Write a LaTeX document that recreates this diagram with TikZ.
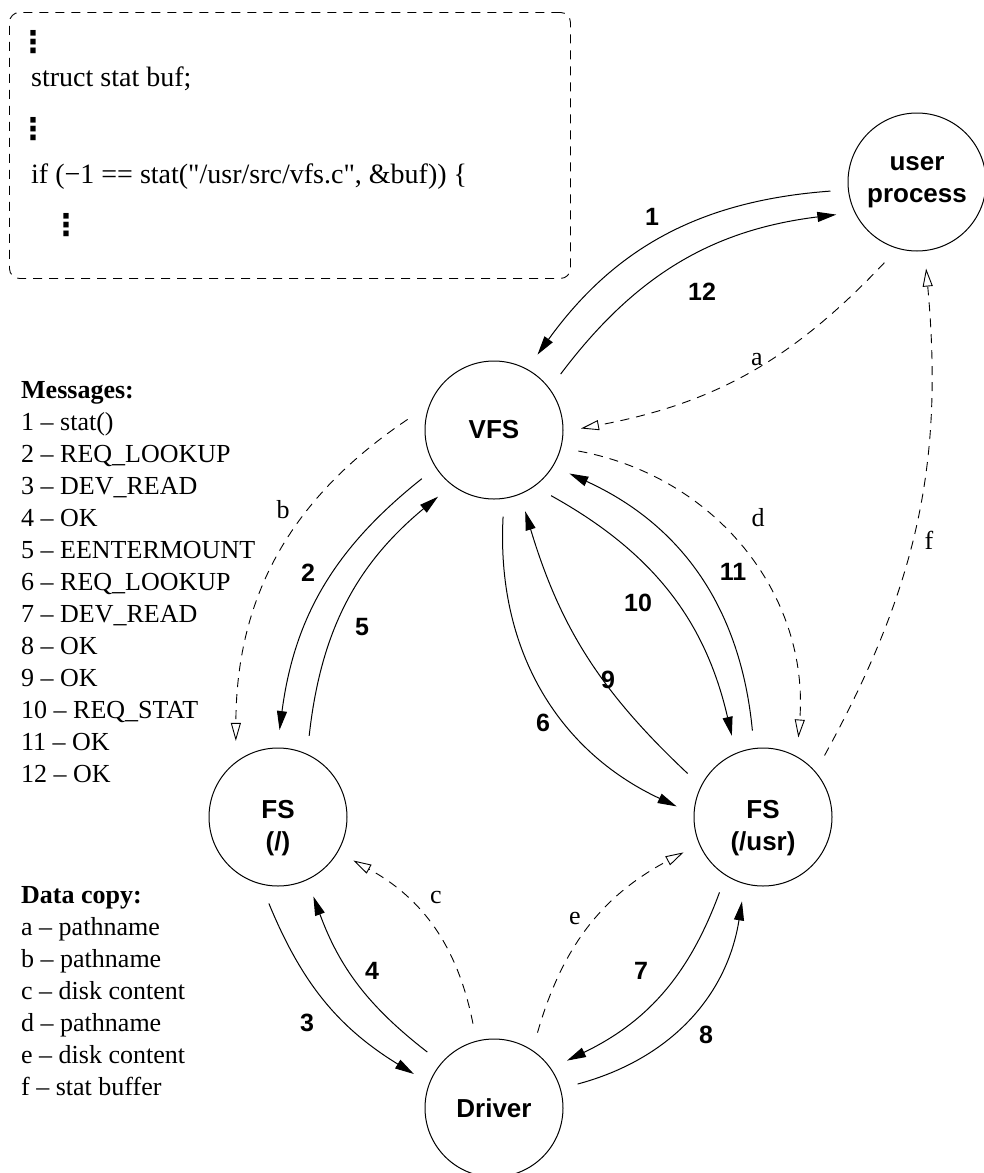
\documentclass[tikz,border=0pt]{standalone}
\usepackage{fontspec}
\setmainfont{Liberation Serif}
\setsansfont{Liberation Sans}
\newfontfamily\codefam{Liberation Serif}
\newfontfamily\symfam{DejaVu Sans}
\usetikzlibrary{arrows.meta}

\newcommand{\procfont}{\sffamily\bfseries\fontsize{26}{32}\selectfont}
\newcommand{\numfont}{\sffamily\bfseries\fontsize{25}{30}\selectfont}
\newcommand{\codefont}{\codefam\fontsize{28}{34}\selectfont}
\newcommand{\dotsfont}{\symfam\bfseries\fontsize{30}{34}\selectfont}
\newcommand{\listfont}{\fontsize{26}{32}\selectfont}

\tikzset{
  proc/.style={circle, draw, line width=1pt, minimum size=138pt, inner sep=0pt, outer sep=18pt, font=\procfont, align=center},
  msg/.style={line width=1pt, -{Triangle[length=19pt,width=10pt]}},
  datacopy/.style={line width=0.9pt, dash pattern=on 9pt off 7pt, -{Triangle[open,length=18pt,width=10pt]}},
  msgnum/.style={font=\numfont, inner sep=0pt},
  copylbl/.style={font=\listfont, inner sep=0pt},
  txt/.style={anchor=base west, inner sep=0pt},
  vdot/.style={anchor=base, inner sep=0pt, font=\dotsfont},
}

\begin{document}
\begin{tikzpicture}[x=1pt, y=-1pt]
  \useasboundingbox (0,0) rectangle (984,1173);

  % code fragment
  \node[draw, line width=0.9pt, dash pattern=on 9pt off 7pt, rounded corners=10pt,
        minimum width=561pt, minimum height=266pt, anchor=north west] (code) at (9,12) {};
  \node[vdot] (dots1) at (33,52) {⋮};
  \node[txt, font=\codefont] (decl) at (31,86) {struct stat buf;};
  \node[vdot] (dots2) at (33,139) {⋮};
  \node[txt, font=\codefont] (call) at (31,183) {if (−1 == stat("/usr/src/vfs.c", \&buf)) \{};
  \node[vdot] (dots3) at (66,235) {⋮};

  % legend
  \node[txt, font=\listfont\bfseries] (msghead) at (21,398) {Messages:};
  \foreach \m [count=\i] in {stat(), REQ\_LOOKUP, DEV\_READ, OK, EENTERMOUNT, REQ\_LOOKUP,
                             DEV\_READ, OK, OK, REQ\_STAT, OK, OK}
    \node[txt, font=\listfont] (msg\i) at (21,398+32*\i) {\i{} – \m};

  \node[txt, font=\listfont\bfseries] (copyhead) at (21,903) {Data copy:};
  \foreach \l/\d [count=\i] in {a/pathname, b/pathname, c/disk content, d/pathname,
                                e/disk content, f/stat buffer}
    \node[txt, font=\listfont] (copy\i) at (21,903+32*\i) {\l{} – \d};

  % processes
  \node[proc] (up) at (917,182) {user\\process};
  \node[proc] (vfs) at (494,430) {VFS};
  \node[proc] (fsroot) at (278,817) {\rule{0pt}{40pt}FS\\(/)};
  \node[proc] (fsusr) at (763,817) {\rule{0pt}{40pt}FS\\(/usr)};
  \node[proc] (drv) at (494,1108) {Driver};

  % messages
  \draw[msg] (up.186) to[bend right=25] (vfs.60);
  \draw[msg] (vfs.40) to[bend left=23] (up.202);
  \draw[msg] (vfs.214) to[bend right=22] (fsroot.89);
  \draw[msg] (fsroot.69) to[bend left=22] (vfs.230);
  \draw[msg] (fsroot.264) to[bend right=18] (drv.157);
  \draw[msg] (drv.140) to[bend left=16] (fsroot.294);
  \draw[msg] (vfs.276) to[bend right=34] (fsusr.173);
  \draw[msg] (fsusr.240) to[bend left=22] (drv.33);
  \draw[msg] (drv.16) to[bend right=33] (fsusr.256);
  \draw[msg] (fsusr.150) to[bend left=15] (vfs.291);
  \draw[msg] (vfs.311) to[bend left=24] (fsusr.111);
  \draw[msg] (fsusr.97) to[bend right=30] (vfs.330);

  \node[msgnum] (n1) at (652,217) {1};
  \node[msgnum] (n2) at (308,573) {2};
  \node[msgnum] (n3) at (307,1023) {3};
  \node[msgnum] (n4) at (372,971) {4};
  \node[msgnum] (n5) at (362,627) {5};
  \node[msgnum] (n6) at (543,723) {6};
  \node[msgnum] (n7) at (641,971) {7};
  \node[msgnum] (n8) at (706,1035) {8};
  \node[msgnum] (n9) at (608,680) {9};
  \node[msgnum] (n10) at (638,603) {10};
  \node[msgnum] (n11) at (733,572) {11};
  \node[msgnum] (n12) at (702,292) {12};

  % data copies
  \draw[datacopy] (up.248) to[bend left=18] (vfs.1);
  \draw[datacopy] (vfs.173) to[bend right=28] (fsroot.119);
  \draw[datacopy] (drv.104) to[bend right=25] (fsroot.330);
  \draw[datacopy] (vfs.346) to[bend left=42] (fsusr.66);
  \draw[datacopy] (drv.60) to[bend left=23] (fsusr.204);
  \draw[datacopy] (fsusr.45) to[bend right=17] (up.276);

  \node[copylbl] (la) at (757,360) {a};
  \node[copylbl] (lb) at (283,510) {b};
  \node[copylbl] (lc) at (436,897) {c};
  \node[copylbl] (ld) at (758,518) {d};
  \node[copylbl] (le) at (575,918) {e};
  \node[copylbl] (lf) at (929,540) {f};
\end{tikzpicture}
\end{document}
